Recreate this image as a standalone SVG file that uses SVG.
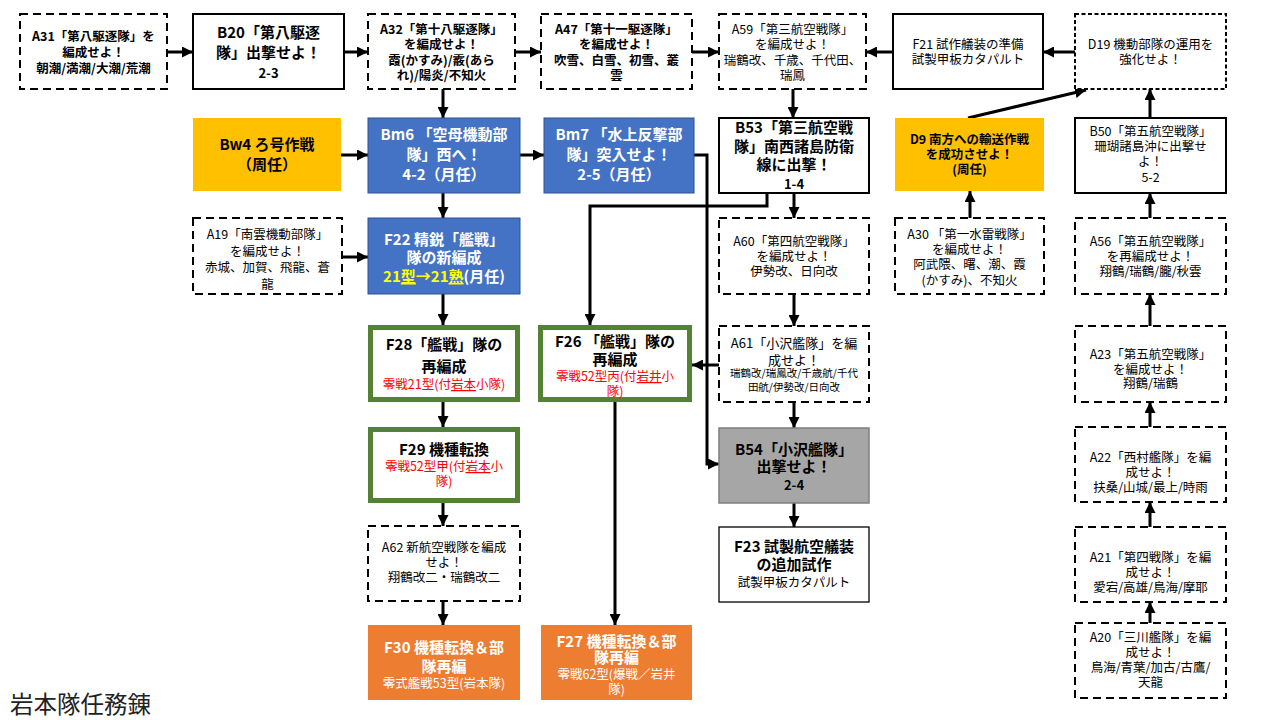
<svg xmlns="http://www.w3.org/2000/svg" width="1280" height="720" viewBox="0 0 1280 720">
<defs>
<marker id="arr" viewBox="0 0 10 10" refX="10" refY="5" markerWidth="11" markerHeight="11" markerUnits="userSpaceOnUse" orient="auto">
<path d="M0,0 L10,5 L0,10 z" fill="#000"/>
</marker>
</defs>
<style>
text{font-family:"Noto Sans CJK JP","Noto Sans",sans-serif;text-anchor:middle;fill:#000}
.s{font-size:12.5px}
.sb{font-size:12.5px;font-weight:bold}
.xs{font-size:10.5px}
.b{font-size:15px;font-weight:bold}
.n{font-size:13px;font-weight:bold}
.w{fill:#fff}
.r{fill:#f00}
.y{fill:#ff0}
.dash{fill:#fff;stroke:#000;stroke-width:2;stroke-dasharray:8 5}
.dash2{fill:#fff;stroke:#000;stroke-width:2;stroke-dasharray:4 2.5}
.solid{fill:#fff;stroke:#000;stroke-width:2}
.thin{fill:#fff;stroke:#000;stroke-width:1.3}
.blue{fill:#4472C4;stroke:#2F528F;stroke-width:1}
.gold{fill:#FFC000}
.orange{fill:#ED7D31}
.green{fill:#fff;stroke:#548235;stroke-width:5}
.gray{fill:#A6A6A6;stroke:#7F7F7F;stroke-width:1.5}
.c{fill:none;stroke:#000;stroke-width:3;marker-end:url(#arr)}
.u{text-decoration:underline}
</style>
<rect width="1280" height="720" fill="#fff"/>

<g id="connectors">
<path class="c" d="M167,52 H193"/>
<path class="c" d="M344,52 H368"/>
<path class="c" d="M515,52 H541"/>
<path class="c" d="M692,52 H719"/>
<path class="c" d="M893,52 H866"/>
<path class="c" d="M1075,52 H1043"/>
<path class="c" d="M443,89 V118"/>
<path class="c" d="M341,155 H368"/>
<path class="c" d="M520,155 H544"/>
<path class="c" d="M443,193 V218"/>
<path class="c" d="M342,257 H368"/>
<path class="c" d="M443,294 V325"/>
<path class="c" d="M443,402 V427"/>
<path class="c" d="M443,503 V526"/>
<path class="c" d="M443,601 V625"/>
<path class="c" d="M793,89 V118"/>
<path class="c" d="M794,193 V218"/>
<path class="c" d="M794,294 V326"/>
<path class="c" d="M794,402 V428"/>
<path class="c" d="M794,503 V527"/>
<path class="c" d="M767,193 V206 H590 V325"/>
<path class="c" d="M694,155 H707 V464 H719"/>
<path class="c" d="M719,365 H692"/>
<path class="c" d="M615,402 V625"/>
<path class="c" d="M968,118 L1086,90"/>
<path class="c" d="M1150,118 V89"/>
<path class="c" d="M1150,218 V193"/>
<path class="c" d="M1150,326 V294"/>
<path class="c" d="M1150,427 V402"/>
<path class="c" d="M1150,527 V502"/>
<path class="c" d="M1150,623 V602"/>
<path class="c" d="M970,218 V191"/>
</g>

<g id="A31">
<rect class="dash" x="20" y="14" width="147" height="75"/>
<text class="sb" x="93.5" y="41">A31「第八駆逐隊」を</text>
<text class="sb" x="93.5" y="57">編成せよ！</text>
<text class="sb" x="93.5" y="73">朝潮/満潮/大潮/荒潮</text>
</g>
<g id="B20">
<rect class="solid" x="193" y="14" width="151" height="75"/>
<text class="b" x="268.5" y="38">B20「第八駆逐</text>
<text class="b" x="268.5" y="58">隊」出撃せよ！</text>
<text class="n" x="268.5" y="78">2-3</text>
</g>
<g id="A32">
<rect class="dash" x="368" y="14" width="147" height="75"/>
<text class="sb" x="441.5" y="34">A32「第十八駆逐隊」</text>
<text class="sb" x="441.5" y="49">を編成せよ！</text>
<text class="sb" x="441.5" y="65">霞(かすみ)/霰(あら</text>
<text class="sb" x="441.5" y="80">れ)/陽炎/不知火</text>
</g>
<g id="A47">
<rect class="dash" x="541" y="14" width="151" height="75"/>
<text class="sb" x="616.5" y="34">A47「第十一駆逐隊」</text>
<text class="sb" x="616.5" y="49">を編成せよ！</text>
<text class="sb" x="616.5" y="65">吹雪、白雪、初雪、叢</text>
<text class="sb" x="616.5" y="80">雲</text>
</g>
<g id="A59">
<rect class="dash" x="719" y="14" width="147" height="75"/>
<text class="s" x="792.5" y="34">A59「第三航空戦隊」</text>
<text class="s" x="792.5" y="49">を編成せよ！</text>
<text class="s" x="792.5" y="65">瑞鶴改、千歳、千代田、</text>
<text class="s" x="792.5" y="80">瑞鳳</text>
</g>
<g id="F21">
<rect class="solid" x="893" y="14" width="150" height="75"/>
<text class="s" x="968" y="49">F21 試作艤装の準備</text>
<text class="s" x="968" y="64">試製甲板カタパルト</text>
</g>
<g id="D19">
<rect class="dash2" x="1075" y="14" width="151" height="75"/>
<text class="s" x="1150.5" y="49">D19 機動部隊の運用を</text>
<text class="s" x="1150.5" y="64">強化せよ！</text>
</g>

<g id="Bw4">
<rect class="gold" x="193" y="118" width="148" height="73"/>
<text class="b" x="267" y="150">Bw4 ろ号作戦</text>
<text class="b" x="267" y="170">（周任）</text>
</g>
<g id="Bm6">
<rect class="blue" x="368" y="118" width="152" height="75"/>
<text class="b w" x="444" y="140">Bm6 「空母機動部</text>
<text class="b w" x="444" y="160">隊」西へ！</text>
<text class="b w" x="444" y="180">4-2（月任）</text>
</g>
<g id="Bm7">
<rect class="blue" x="544" y="118" width="150" height="75"/>
<text class="b w" x="619" y="140">Bm7 「水上反撃部</text>
<text class="b w" x="619" y="160">隊」突入せよ！</text>
<text class="b w" x="619" y="180">2-5（月任）</text>
</g>
<g id="B53">
<rect class="solid" x="719" y="118" width="150" height="75"/>
<text class="b" x="794" y="133">B53「第三航空戦</text>
<text class="b" x="794" y="152">隊」南西諸島防衛</text>
<text class="b" x="794" y="170">線に出撃！</text>
<text class="n" x="794" y="189">1-4</text>
</g>
<g id="D9">
<rect class="gold" x="895" y="118" width="149" height="73"/>
<text class="sb" x="969.5" y="144">D9 南方への輸送作戦</text>
<text class="sb" x="969.5" y="159">を成功させよ！</text>
<text class="sb" x="969.5" y="174">(周任)</text>
</g>
<g id="B50">
<rect class="solid" x="1075" y="118" width="151" height="75"/>
<text class="s" x="1150.5" y="136">B50「第五航空戦隊」</text>
<text class="s" x="1150.5" y="151">珊瑚諸島沖に出撃せ</text>
<text class="s" x="1150.5" y="166">よ！</text>
<text class="s" x="1150.5" y="182">5-2</text>
</g>

<g id="A19">
<rect class="dash" x="193" y="218" width="149" height="76"/>
<text class="s" x="267.5" y="239">A19「南雲機動部隊」</text>
<text class="s" x="267.5" y="256">を編成せよ！</text>
<text class="s" x="267.5" y="272">赤城、加賀、飛龍、蒼</text>
<text class="s" x="267.5" y="289">龍</text>
</g>
<g id="F22">
<rect class="blue" x="368" y="218" width="152" height="76"/>
<text class="b w" x="444" y="245">F22 精鋭「艦戦」</text>
<text class="b w" x="444" y="263">隊の新編成</text>
<text class="b" x="444" y="282"><tspan class="y">21<tspan class="u">型</tspan>→21<tspan class="u">熟</tspan></tspan><tspan class="w">(月任)</tspan></text>
</g>
<g id="A60">
<rect class="dash" x="719" y="218" width="150" height="76"/>
<text class="s" x="794" y="246">A60「第四航空戦隊」</text>
<text class="s" x="794" y="261">を編成せよ！</text>
<text class="s" x="794" y="276">伊勢改、日向改</text>
</g>
<g id="A30">
<rect class="dash" x="895" y="218" width="149" height="76"/>
<text class="s" x="969.5" y="239">A30 「第一水雷戦隊」</text>
<text class="s" x="969.5" y="254">を編成せよ！</text>
<text class="s" x="969.5" y="269">阿武隈、曙、潮、霞</text>
<text class="s" x="969.5" y="285">(かすみ)、不知火</text>
</g>
<g id="A56">
<rect class="dash" x="1075" y="218" width="151" height="76"/>
<text class="s" x="1150.5" y="246">A56「第五航空戦隊」</text>
<text class="s" x="1150.5" y="261">を再編成せよ！</text>
<text class="s" x="1150.5" y="276">翔鶴/瑞鶴/朧/秋雲</text>
</g>

<g id="F28">
<rect class="green" x="370.5" y="327.5" width="147" height="72"/>
<text class="b" x="444" y="350">F28「艦戦」隊の</text>
<text class="b" x="444" y="372">再編成</text>
<text class="s r" x="444" y="389">零戦21型(付<tspan class="u">岩本</tspan>小隊)</text>
</g>
<g id="F26">
<rect class="green" x="540.5" y="327.5" width="149" height="72"/>
<text class="b" x="615" y="347">F26 「艦戦」隊の</text>
<text class="b" x="615" y="365">再編成</text>
<text class="s r" x="615" y="381">零戦52型丙(付<tspan class="u">岩井</tspan>小</text>
<text class="s r" x="615" y="396">隊)</text>
</g>
<g id="A61">
<rect class="dash" x="719" y="326" width="150" height="76"/>
<text class="n" style="font-weight:normal" x="794" y="348">A61「小沢艦隊」を編</text>
<text class="n" style="font-weight:normal" x="794" y="365">成せよ！</text>
<text class="xs" x="794" y="377">瑞鶴改/瑞鳳改/千歳航/千代</text>
<text class="xs" x="794" y="391">田航/伊勢改/日向改</text>
</g>
<g id="A23">
<rect class="dash" x="1075" y="326" width="151" height="76"/>
<text class="s" x="1150.5" y="359">A23「第五航空戦隊」</text>
<text class="s" x="1150.5" y="374">を編成せよ！</text>
<text class="s" x="1150.5" y="388">翔鶴/瑞鶴</text>
</g>

<g id="F29">
<rect class="green" x="370.5" y="429.5" width="147" height="71"/>
<text class="b" x="444" y="455">F29 機種転換</text>
<text class="s r" x="444" y="471">零戦52型甲(付<tspan class="u">岩本</tspan>小</text>
<text class="s r" x="444" y="486">隊)</text>
</g>
<g id="B54">
<rect class="gray" x="719" y="428" width="150" height="75"/>
<text class="b" x="794" y="455">B54「小沢艦隊」</text>
<text class="b" x="794" y="472">出撃せよ！</text>
<text class="n" x="794" y="490">2-4</text>
</g>
<g id="A22">
<rect class="dash" x="1075" y="427" width="151" height="75"/>
<text class="s" x="1150.5" y="462">A22「西村艦隊」を編</text>
<text class="s" x="1150.5" y="477">成せよ！</text>
<text class="s" x="1150.5" y="492">扶桑/山城/最上/時雨</text>
</g>

<g id="A62">
<rect class="dash" x="368" y="526" width="152" height="75"/>
<text class="s" x="444" y="552">A62 新航空戦隊を編成</text>
<text class="s" x="444" y="567">せよ！</text>
<text class="s" x="444" y="582">翔鶴改二・瑞鶴改二</text>
</g>
<g id="F23">
<rect class="thin" x="719" y="527" width="150" height="75"/>
<text class="b" x="794" y="552">F23 試製航空艤装</text>
<text class="b" x="794" y="570">の追加試作</text>
<text class="s" x="794" y="587">試製甲板カタパルト</text>
</g>
<g id="A21">
<rect class="dash" x="1075" y="527" width="151" height="75"/>
<text class="s" x="1150.5" y="562">A21「第四戦隊」を編</text>
<text class="s" x="1150.5" y="577">成せよ！</text>
<text class="s" x="1150.5" y="592">愛宕/高雄/鳥海/摩耶</text>
</g>

<g id="F30">
<rect class="orange" x="368" y="625" width="152" height="75"/>
<text class="b w" x="444" y="653">F30 機種転換＆部</text>
<text class="b w" x="444" y="672">隊再編</text>
<text class="s w" x="444" y="688">零式艦戦53型(岩本隊)</text>
</g>
<g id="F27">
<rect class="orange" x="541" y="625" width="151" height="75"/>
<text class="b w" x="616.5" y="647">F27 機種転換＆部</text>
<text class="b w" x="616.5" y="663">隊再編</text>
<text class="s w" x="616.5" y="679">零戦62型(爆戦／岩井</text>
<text class="s w" x="616.5" y="694">隊)</text>
</g>
<g id="A20">
<rect class="dash" x="1075" y="623" width="151" height="75"/>
<text class="s" x="1150.5" y="642">A20「三川艦隊」を編</text>
<text class="s" x="1150.5" y="657">成せよ！</text>
<text class="s" x="1150.5" y="672">鳥海/青葉/加古/古鷹/</text>
<text class="s" x="1150.5" y="687">天龍</text>
</g>

<text x="10" y="713" style="font-size:23.5px;text-anchor:start;fill:#222">岩本隊任務錬</text>
</svg>
